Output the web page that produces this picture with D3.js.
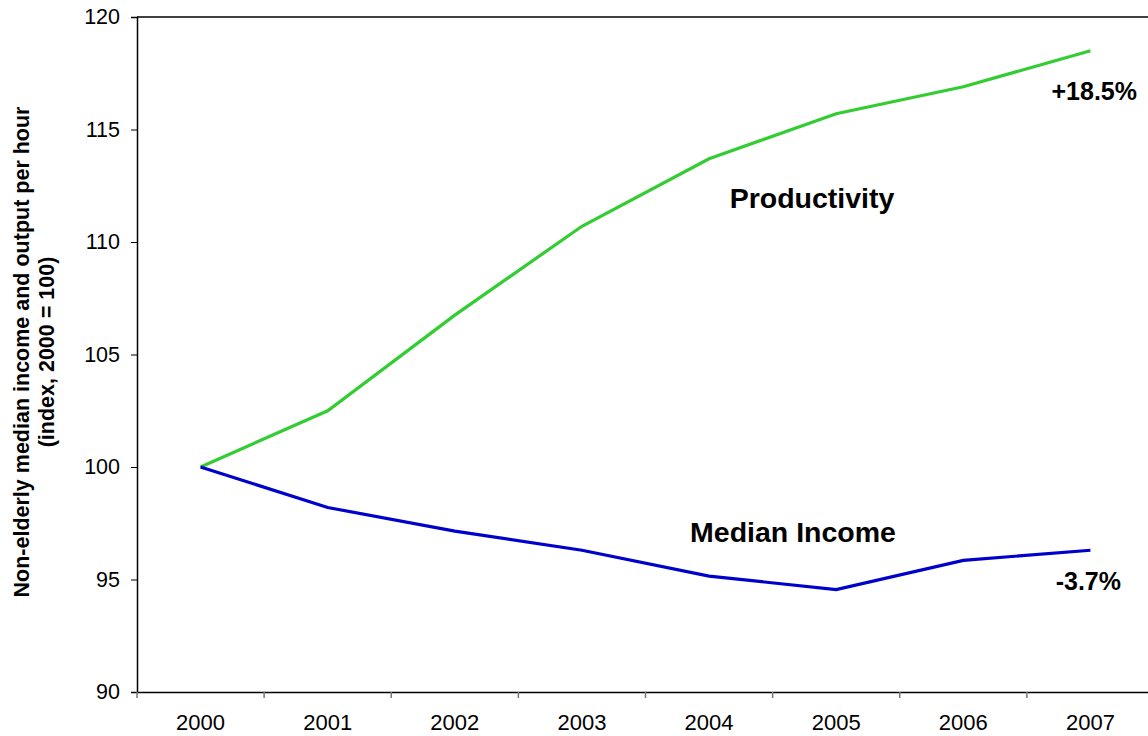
<!DOCTYPE html>
<html><head><meta charset="utf-8">
<script src="https://cdn.jsdelivr.net/npm/d3@7"></script>
<style>body{margin:0;background:#fff}svg{display:block;font-family:Arial,"Liberation Sans",sans-serif}</style>
</head><body><svg id="c" width="1148" height="736"></svg>
<script>
const years = ["2000","2001","2002","2003","2004","2005","2006","2007"];
const productivity = [100, 102.5, 106.75, 110.7, 113.7, 115.7, 116.9, 118.5];
const medianIncome = [100, 98.2, 97.15, 96.3, 95.15, 94.55, 95.85, 96.3];
const yTicks = [90, 95, 100, 105, 110, 115, 120];

const FF = "Arial, Liberation Sans, sans-serif";
const svg = d3.select("#c");
const x = d3.scaleBand().domain(years).range([137, 1154]);
const y = d3.scaleLinear().domain([90, 120]).range([692, 17]);
const cx = d => x(d) + x.bandwidth() / 2;

// top border
svg.append("line").attr("x1",137).attr("x2",1148).attr("y1",17).attr("y2",17).attr("stroke","#000").attr("stroke-width",1.5);

// y axis
const ya = svg.append("g").attr("transform","translate(137,0)")
  .call(d3.axisLeft(y).tickValues(yTicks).tickSize(6).tickPadding(11));
ya.attr("font-size",21.5).attr("font-family",FF);
ya.select(".domain").attr("stroke","#000").attr("stroke-width",1.5);
ya.selectAll(".tick line").attr("stroke","#000");
ya.selectAll("text").attr("font-size",21.5).attr("fill","#000");

// x axis
const xa = svg.append("g").attr("transform","translate(0,692)")
  .call(d3.axisBottom(x).tickSize(0).tickPadding(0));
xa.attr("font-size",22).attr("font-family",FF);
xa.select(".domain").attr("stroke","#000").attr("stroke-width",1.5);
xa.selectAll(".tick text").attr("font-size",22).attr("fill","#000").attr("dy",null).attr("y",38);
xa.selectAll(".bt").data(years).enter().append("line").attr("class","bt")
  .attr("x1",d=>x(d)).attr("x2",d=>x(d)).attr("y1",0).attr("y2",6).attr("stroke","#777").attr("stroke-width",1.5);

const line = d3.line().x((d,i)=>cx(years[i])).y(d=>y(d));
svg.append("path").datum(productivity).attr("d",line).attr("fill","none").attr("stroke","#33CC33").attr("stroke-width",3.2);
svg.append("path").datum(medianIncome).attr("d",line).attr("fill","none").attr("stroke","#0000CC").attr("stroke-width",3.2);

// labels
const lab = (t,xx,yy,fs,anchor) => svg.append("text").attr("x",xx).attr("y",yy).attr("font-size",fs).attr("font-family",FF).attr("font-weight","bold").attr("text-anchor",anchor).text(t);
lab("Productivity", 812, 208, 28.5, "middle");
lab("Median Income", 793, 542, 28.5, "middle");
lab("+18.5%", 1137, 100, 25, "end");
lab("-3.7%", 1121, 590, 25, "end");

// y axis title
const yt = svg.append("text").attr("transform","translate(0,352) rotate(-90)").attr("text-anchor","middle").attr("font-size",21.5).attr("font-family",FF).attr("font-weight","bold");
yt.append("tspan").attr("x",0).attr("y",29).text("Non-elderly median income and output per hour");
yt.append("tspan").attr("x",0).attr("y",54).text("(index, 2000 = 100)");
</script></body></html>
